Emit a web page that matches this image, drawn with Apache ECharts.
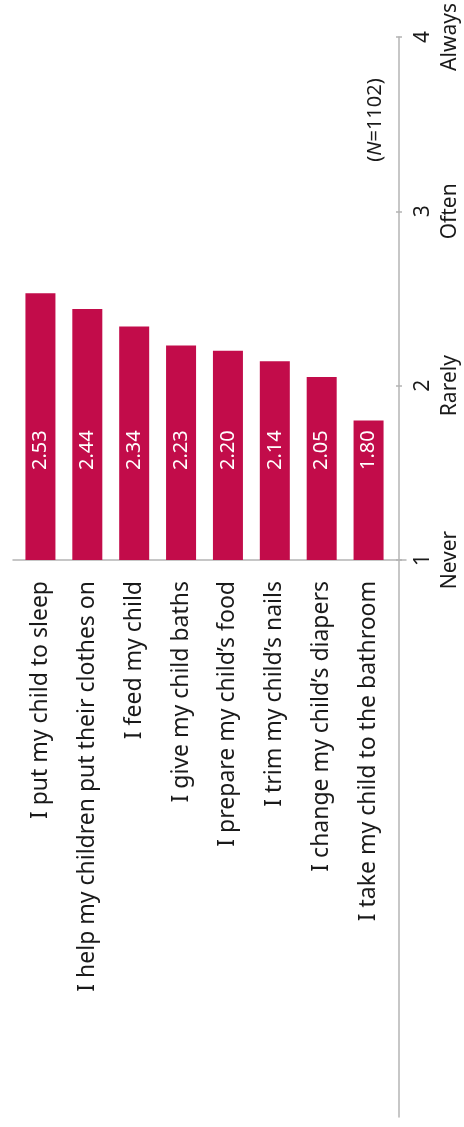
<!DOCTYPE html>
<html>
<head>
<meta charset="utf-8">
<script src="https://cdn.jsdelivr.net/npm/echarts@6/dist/echarts.min.js"></script>
<style>
  html, body { margin: 0; padding: 0; background: #fff; }
  #chart { width: 464px; height: 1127px; }
</style>
</head>
<body>
<div id="chart"></div>
<script>
// Parenting tasks and how often they are done (1 = Never ... 4 = Always)
const categories = [
  'I put my child to sleep',
  'I help my children put their clothes on',
  'I feed my child',
  'I give my child baths',
  'I prepare my child\u2019s food',
  'I trim my child\u2019s nails',
  'I change my child\u2019s diapers',
  'I take my child to the bathroom'
];
const values = [2.53, 2.44, 2.34, 2.23, 2.20, 2.14, 2.05, 1.80];
const scaleLabels = { 1: 'Never', 2: 'Rarely', 3: 'Often', 4: 'Always' };
const sampleSize = '1102';

const FONT = '"Noto Sans", sans-serif';
const AXIS_GREY = '#b4b4b4';
const BAR_RED = '#c20c4a';
const TEXT = '#1a1a1a';

const chart = echarts.init(document.getElementById('chart'), null, { renderer: 'canvas' });

const plainLine = { show: true, onZero: false, lineStyle: { color: AXIS_GREY, width: 1.5 } };
const hidden = { show: false };

chart.setOption({
  animation: false,
  textStyle: { fontFamily: FONT },
  grid: [
    // bars and scale
    { left: 17, right: 69, top: 37, bottom: 567 },
    // baseline, running a little past both ends of the bar band
    { left: 13, right: 58, top: 37, bottom: 567 },
    // right-hand axis line, continuing down past the category labels
    { left: 13, right: 65, top: 37, bottom: 10 }
  ],
  xAxis: [
    {
      type: 'category',
      gridIndex: 0,
      data: categories,
      axisLine: hidden,
      axisTick: hidden,
      axisLabel: {
        rotate: 90,
        margin: 21,
        interval: 0,
        fontSize: 23,
        color: TEXT,
        fontFamily: FONT
      }
    },
    {
      type: 'value', gridIndex: 1, position: 'bottom',
      axisLine: plainLine, axisTick: hidden, axisLabel: hidden, splitLine: hidden
    },
    { type: 'value', gridIndex: 2, show: false }
  ],
  yAxis: [
    {
      type: 'value',
      gridIndex: 0,
      position: 'right',
      offset: 4,
      min: 1,
      max: 4,
      interval: 1,
      splitLine: hidden,
      axisLine: hidden,
      axisTick: { show: true, inside: false, length: 6, lineStyle: { color: AXIS_GREY, width: 1.5 } },
      axisLabel: {
        rotate: 90,
        margin: 14,
        fontSize: 21,
        lineHeight: 27,
        color: TEXT,
        fontFamily: FONT,
        formatter: v => v + '\n' + scaleLabels[v]
      }
    },
    { type: 'value', gridIndex: 1, show: false },
    {
      type: 'value', gridIndex: 2, position: 'right',
      axisLine: plainLine, axisTick: hidden, axisLabel: hidden, splitLine: hidden
    }
  ],
  graphic: [
    {
      type: 'text',
      x: 375,
      y: 120,
      rotation: Math.PI / 2,
      style: {
        text: '({i|N}=' + sampleSize + ')',
        fontSize: 20,
        fontFamily: FONT,
        fill: TEXT,
        align: 'center',
        verticalAlign: 'middle',
        rich: { i: { fontStyle: 'italic', fontSize: 20, fontFamily: FONT, fill: TEXT } }
      }
    }
  ],
  series: [
    {
      type: 'bar',
      xAxisIndex: 0,
      yAxisIndex: 0,
      data: values,
      barWidth: 30,
      itemStyle: { color: BAR_RED },
      label: {
        show: true,
        position: 'insideBottom',
        distance: 90,
        rotate: 90,
        align: 'left',
        verticalAlign: 'middle',
        color: '#ffffff',
        fontSize: 20,
        fontFamily: FONT,
        formatter: p => p.value.toFixed(2)
      }
    }
  ]
});
</script>
</body>
</html>
